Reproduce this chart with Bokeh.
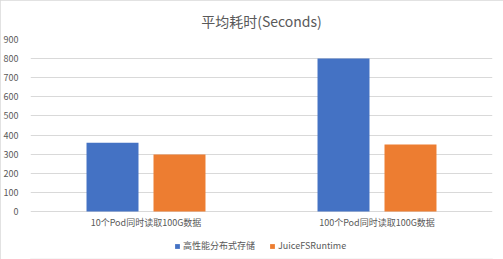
from bokeh.plotting import figure
from bokeh.models import FactorRange, Legend, LegendItem, FixedTicker, Range1d, ColumnDataSource
from bokeh.core.properties import value
from bokeh.transform import dodge
from bokeh.embed import file_html
from bokeh.resources import INLINE

categories = ["10个Pod同时读取100G数据", "100个Pod同时读取100G数据"]
series_names = ["高性能分布式存储", "JuiceFSRuntime"]
storage_values = [360, 800]
juicefs_values = [298, 350]
y_ticks = [0, 100, 200, 300, 400, 500, 600, 700, 800, 900]
colors = ["#4472C4", "#ED7D31"]

src = ColumnDataSource(dict(cat=categories, a=storage_values, b=juicefs_values))

FONT = "Noto Sans CJK SC"
GREY = "#595959"

# frame spans from the 900 gridline down to the bottom of the chart box,
# so the category labels and legend are drawn inside it below value 0
p = figure(width=503, height=259, x_range=FactorRange(*categories, range_padding=0),
           y_range=Range1d(-246, 900), output_backend="svg", toolbar_location=None,
           min_border_left=29, min_border_right=11, min_border_top=39, min_border_bottom=1)
p.title.text = "平均耗时(Seconds)"
p.title.align = "center"
p.title.vertical_align = "top"
p.title.text_font = FONT
p.title.text_font_size = "14px"
p.title.text_font_style = "normal"
p.title.text_color = GREY
p.title.standoff = 14
p.title.offset = -9

r1 = p.vbar(x=dodge("cat", -0.145, range=p.x_range), top="a", width=0.225, source=src,
            color=colors[0], line_color=None)
r2 = p.vbar(x=dodge("cat", 0.145, range=p.x_range), top="b", width=0.225, source=src,
            color=colors[1], line_color=None)

p.text(x="cat", y=-58, text="cat", source=src, text_align="center", text_baseline="middle",
       text_font=value(FONT), text_font_size="9px", text_color=GREY)

p.outline_line_color = None
p.xaxis.visible = False
p.xgrid.grid_line_color = None
p.ygrid.grid_line_color = "#d9d9d9"
p.ygrid.ticker = FixedTicker(ticks=y_ticks)
p.yaxis.ticker = FixedTicker(ticks=y_ticks)
p.yaxis.axis_line_color = None
p.yaxis.major_tick_line_color = None
p.yaxis.minor_tick_line_color = None
p.yaxis.major_label_text_font = FONT
p.yaxis.major_label_text_font_size = "9px"
p.yaxis.major_label_text_color = GREY
p.yaxis.major_label_standoff = 6

legend = Legend(items=[LegendItem(label=series_names[0], renderers=[r1]),
                       LegendItem(label=series_names[1], renderers=[r2])],
                orientation="horizontal", location=(144, 6),
                label_text_font=FONT, label_text_font_size="9px", label_text_color=GREY,
                glyph_width=6, glyph_height=6, label_standoff=3, spacing=14,
                padding=2, margin=0, border_line_color=None, background_fill_alpha=0)
p.add_layout(legend, "center")

p.styles = {"outline": "1px solid #d9d9d9", "outline-offset": "-1px"}

open("out.html", "w").write(file_html(p, INLINE))
